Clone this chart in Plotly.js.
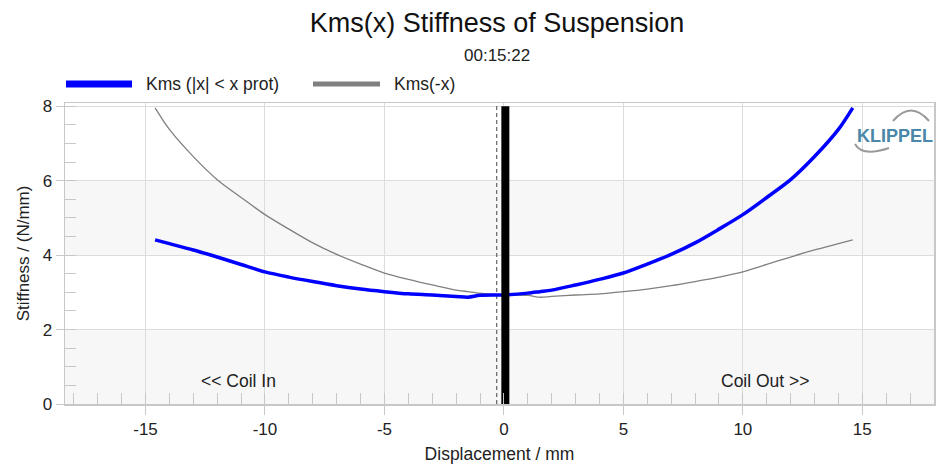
<!DOCTYPE html>
<html>
<head>
<meta charset="utf-8">
<script src="https://cdn.plot.ly/plotly-3.0.1.min.js"></script>
<style>html,body{margin:0;padding:0;background:#fff;}#chart{width:936px;height:465px;}</style>
</head>
<body>
<div id="chart"></div>
<script>
// ---- data ----
const xDisp = [-14.6, -14, -13, -12, -11, -10, -9, -8, -7, -6, -5, -4, -3, -2, -1.5, -1, 0, 1, 1.5, 2, 3, 4, 5, 6, 7, 8, 9, 10, 11, 12, 13, 14, 14.6];
const kmsProt = [4.41, 4.31, 4.14, 3.95, 3.75, 3.55, 3.41, 3.29, 3.18, 3.09, 3.02, 2.96, 2.93, 2.89, 2.87, 2.92, 2.93, 2.98, 3.02, 3.06, 3.20, 3.35, 3.52, 3.76, 4.02, 4.33, 4.70, 5.09, 5.55, 6.03, 6.65, 7.38, 7.96];
const kmsMinusX = [7.96, 7.38, 6.65, 6.03, 5.55, 5.09, 4.70, 4.33, 4.02, 3.76, 3.52, 3.35, 3.20, 3.06, 3.02, 2.98, 2.93, 2.92, 2.87, 2.89, 2.93, 2.96, 3.02, 3.09, 3.18, 3.29, 3.41, 3.55, 3.75, 3.95, 4.14, 4.31, 4.41];
const restX = [0.06, 0.06];     // thick black marker
const restY = [0, 8];
const dashX = [-0.3, -0.3];     // dashed reference line
const dashY = [0, 8.09];
const xTicks = [-15, -10, -5, 0, 5, 10, 15];
const yTicks = [0, 2, 4, 6, 8];
const legendNames = ["Kms (|x| < x prot)", "Kms(-x)"];

const FONT = "Liberation Sans, Arial, sans-serif";

const traces = [
  {x: dashX, y: dashY, mode: 'lines', line: {color: '#444', width: 1, dash: '4px,3px'}, hoverinfo: 'skip', showlegend: false},
  {x: xDisp, y: kmsMinusX, mode: 'lines', name: legendNames[1], line: {color: '#808080', width: 1.3, shape: 'spline', smoothing: 0.8}, showlegend: false},
  {x: xDisp, y: kmsProt, mode: 'lines', name: legendNames[0], line: {color: '#0000ff', width: 3.5, shape: 'spline', smoothing: 0.8}, showlegend: false},
  {x: restX, y: restY, mode: 'lines', line: {color: '#000', width: 8}, hoverinfo: 'skip', showlegend: false}
];

// pixel -> paper helpers (plot area 65..934 x 103..404)
const L = 65, R = 934, T = 103, B = 404;
const px = v => (v - L) / (R - L);
const py = v => 1 - (v - T) / (B - T);

const shapes = [
  {type: 'rect', xref: 'paper', yref: 'y', x0: 0, x1: 1, y0: 0, y1: 2, fillcolor: '#f7f7f7', line: {width: 0}, layer: 'below'},
  {type: 'rect', xref: 'paper', yref: 'y', x0: 0, x1: 1, y0: 4, y1: 6, fillcolor: '#f7f7f7', line: {width: 0}, layer: 'below'},
  // legend samples
  {type: 'line', xref: 'paper', yref: 'paper', x0: px(66), x1: px(132), y0: py(84), y1: py(84), line: {color: '#0000ff', width: 7}},
  {type: 'line', xref: 'paper', yref: 'paper', x0: px(313), x1: px(380), y0: py(84), y1: py(84), line: {color: '#808080', width: 5}},
  // logo arcs
  {type: 'path', xref: 'paper', yref: 'paper', path: `M ${px(893)},${py(121)} Q ${px(911)},${py(100)} ${px(929)},${py(121)}`, line: {color: '#9a9a9a', width: 2}},
  {type: 'path', xref: 'paper', yref: 'paper', path: `M ${px(855)},${py(144)} Q ${px(862)},${py(157)} ${px(889)},${py(148)}`, line: {color: '#9a9a9a', width: 2}}
];

const annotations = [
  {text: '00:15:22', xref: 'paper', yref: 'paper', x: px(497), y: py(56), xanchor: 'center', yanchor: 'middle', showarrow: false, font: {family: FONT, size: 17, color: '#222'}},
  {text: legendNames[0], xref: 'paper', yref: 'paper', x: px(144), y: py(84), xanchor: 'left', yanchor: 'middle', showarrow: false, font: {family: FONT, size: 17.5, color: '#222'}},
  {text: legendNames[1], xref: 'paper', yref: 'paper', x: px(392), y: py(84), xanchor: 'left', yanchor: 'middle', showarrow: false, font: {family: FONT, size: 17.5, color: '#222'}},
  {text: '<< Coil In', x: -11.1, y: 0.62, xref: 'x', yref: 'y', xanchor: 'center', yanchor: 'middle', showarrow: false, font: {family: FONT, size: 17.5, color: '#222'}},
  {text: 'Coil Out >>', x: 10.96, y: 0.62, xref: 'x', yref: 'y', xanchor: 'center', yanchor: 'middle', showarrow: false, font: {family: FONT, size: 17.5, color: '#222'}},
  {text: '<b>KLIPPEL</b>', xref: 'paper', yref: 'paper', x: px(895), y: py(136), xanchor: 'center', yanchor: 'middle', showarrow: false, font: {family: FONT, size: 18, color: '#4a87a8'}}
];

const layout = {
  width: 936, height: 465,
  margin: {l: L, r: 936 - R, t: T, b: 465 - B},
  paper_bgcolor: '#fff', plot_bgcolor: '#fff',
  font: {family: FONT, size: 17, color: '#222'},
  title: {text: 'Kms(x) Stiffness of Suspension', x: px(497), xref: 'paper', xanchor: 'center', y: 1 - 23 / 465, yanchor: 'middle', font: {family: FONT, size: 27, color: '#111'}},
  showlegend: false,
  xaxis: {
    range: [-18.37, 18.0], tickvals: xTicks, ticktext: xTicks.map(String),
    showgrid: true, gridcolor: '#dcdcdc', gridwidth: 1, zeroline: false,
    showline: true, linecolor: '#c8c8c8', linewidth: 1.5, mirror: true,
    ticks: 'outside', ticklen: 9, tickcolor: '#c8c8c8',
    minor: {dtick: 1, ticks: 'inside', ticklen: 11, tickcolor: '#c8c8c8', showgrid: false},
    tickfont: {family: FONT, size: 17, color: '#222'},
    title: {text: 'Displacement / mm', standoff: 10, font: {family: FONT, size: 17.5, color: '#222'}}
  },
  yaxis: {
    range: [0, 8.09], tickvals: yTicks, ticktext: yTicks.map(String),
    showgrid: true, gridcolor: '#dcdcdc', gridwidth: 1, zeroline: false,
    showline: true, linecolor: '#c8c8c8', linewidth: 1.5, mirror: true,
    ticks: 'outside', ticklen: 8, tickcolor: '#c8c8c8',
    minor: {dtick: 0.5, ticks: 'inside', ticklen: 11, tickcolor: '#c8c8c8', showgrid: false},
    tickfont: {family: FONT, size: 17, color: '#222'},
    title: {text: 'Stiffness / (N/mm)', standoff: 8, font: {family: FONT, size: 17, color: '#222'}}
  },
  shapes: shapes,
  annotations: annotations
};

Plotly.newPlot('chart', traces, layout, {staticPlot: true, displayModeBar: false});
</script>
</body>
</html>
